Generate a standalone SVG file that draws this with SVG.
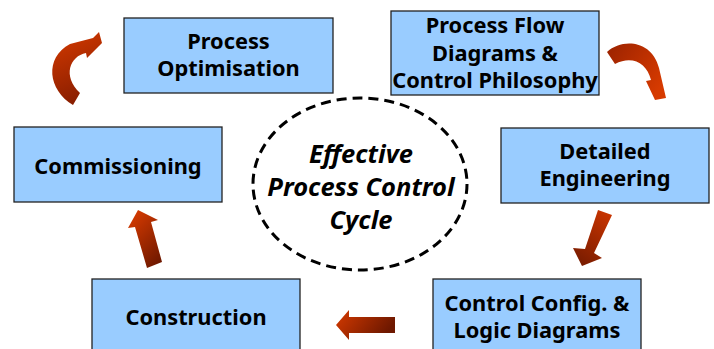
<svg xmlns="http://www.w3.org/2000/svg" width="714" height="349" viewBox="0 0 714 349">
<style>
.box{fill:#99CCFF;stroke:#222;stroke-width:1.3}
.t{font-family:"Noto Sans",sans-serif;font-weight:bold;font-size:21.8px;fill:#000;text-anchor:middle}
.c{font-family:"Noto Sans",sans-serif;font-weight:bold;font-style:italic;font-size:25.5px;fill:#000;text-anchor:middle}
</style>
<defs>
<linearGradient id="gTL" x1="0" y1="0" x2="0.3" y2="1"><stop offset="0" stop-color="#D63A00"/><stop offset="1" stop-color="#8A1E00"/></linearGradient>
<linearGradient id="gTR" x1="0" y1="0" x2="1" y2="0.6"><stop offset="0" stop-color="#9A2200"/><stop offset="1" stop-color="#D63A00"/></linearGradient>
<linearGradient id="gD" x1="0.8" y1="0" x2="0.3" y2="1"><stop offset="0" stop-color="#C83400"/><stop offset="1" stop-color="#7A1C00"/></linearGradient>
<linearGradient id="gL" x1="0" y1="0" x2="1" y2="0.4"><stop offset="0" stop-color="#D63A00"/><stop offset="1" stop-color="#6E1800"/></linearGradient>
<linearGradient id="gU" x1="0.2" y1="0" x2="0.8" y2="1"><stop offset="0" stop-color="#D63A00"/><stop offset="1" stop-color="#6E1800"/></linearGradient>
</defs>
<g id="connectors">
<path d="M73,105 C48,90 44,58 70,44 L93,38 L99,32 L102,43 L87,58 L86,53 C70,56 62,76 80,93 Z" fill="url(#gTL)"/>
<path d="M607,52 C622,38 652,40 659,68 L666,98 L655,100 L646,81 L651,80 C647,63 632,55 615,64 Z" fill="url(#gTR)"/>
<path d="M598,210 L612,215 L594,253 L602,258 L582,266 L573,248 L585,249 Z" fill="url(#gD)"/>
<path d="M336,325 L349,310 L349,317 L395,317 L395,333 L349,333 L349,340 Z" fill="url(#gL)"/>
<path d="M138,210 L158,220 L151,222 L162,262 L147,268 L135,227 L128,228 Z" fill="url(#gU)"/>
</g>
<g id="cycle">
<ellipse cx="360" cy="184" rx="107" ry="86" fill="none" stroke="#000" stroke-width="3" stroke-dasharray="10 6"/>
<text class="c" x="361" y="163">Effective</text>
<text class="c" x="361" y="196">Process Control</text>
<text class="c" x="361" y="229">Cycle</text>
</g>
<g id="optimisation">
<rect class="box" x="124" y="18" width="209" height="75"/>
<text class="t" x="228.5" y="49">Process</text>
<text class="t" x="228.5" y="76">Optimisation</text>
</g>
<g id="pfd">
<rect class="box" x="391" y="11" width="208" height="84"/>
<text class="t" x="495" y="33">Process Flow</text>
<text class="t" x="495" y="61">Diagrams &amp;</text>
<text class="t" x="495" y="88">Control Philosophy</text>
</g>
<g id="commissioning">
<rect class="box" x="14" y="127" width="208" height="75"/>
<text class="t" x="118" y="174">Commissioning</text>
</g>
<g id="detailed">
<rect class="box" x="501" y="128" width="208" height="75"/>
<text class="t" x="605" y="159">Detailed</text>
<text class="t" x="605" y="186">Engineering</text>
</g>
<g id="construction">
<rect class="box" x="92" y="279" width="208" height="80"/>
<text class="t" x="196" y="325">Construction</text>
</g>
<g id="config">
<rect class="box" x="433" y="279" width="208" height="80"/>
<text class="t" x="537" y="311">Control Config. &amp;</text>
<text class="t" x="537" y="338">Logic Diagrams</text>
</g>
</svg>
